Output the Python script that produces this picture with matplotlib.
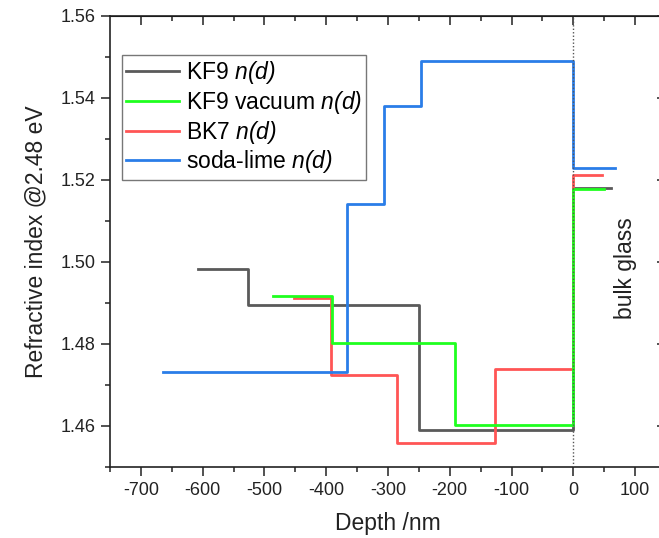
import matplotlib
matplotlib.use("Agg")
import matplotlib.pyplot as plt

# ---- data (step boundaries in nm, levels of refractive index) ----
kf9_x = [-608, -526, -250, 0, 61]
kf9_n = [1.4982, 1.4896, 1.4591, 1.5180, 1.5180]

kf9vac_x = [-486, -391, -192, 0, 50]
kf9vac_n = [1.4918, 1.4802, 1.4603, 1.5179, 1.5179]

bk7_x = [-452, -393, -286, -126, 0, 46]
bk7_n = [1.4911, 1.4724, 1.4559, 1.4740, 1.5213, 1.5213]

soda_x = [-664, -366, -307, -247, 0, 68]
soda_n = [1.4732, 1.5141, 1.5380, 1.5490, 1.5229, 1.5229]

labels = ["KF9 $n(d)$", "KF9 vacuum $n(d)$",
          "BK7 $n(d)$", "soda-lime $n(d)$"]
colors = ["#5a5a5a", "#1fff1f", "#ff5555", "#2a7de8"]

xticks = [-700, -600, -500, -400, -300, -200, -100, 0, 100]
yticks = [1.46, 1.48, 1.50, 1.52, 1.54, 1.56]

plt.rcParams['font.family'] = ['Liberation Sans', 'DejaVu Sans']
plt.rcParams['mathtext.fontset'] = 'custom'
plt.rcParams['mathtext.rm'] = 'Liberation Sans:italic'
plt.rcParams['mathtext.it'] = 'Liberation Sans:italic'
plt.rcParams['mathtext.default'] = 'it'

W, H = 659, 538
fig = plt.figure(figsize=(W / 100, H / 100), dpi=100)
L, R, T, B = 110, 666, 16, 467
ax = fig.add_axes([L / W, 1 - B / H, (R - L) / W, (B - T) / H])

lw = 2.0
h_kf9, = ax.step(kf9_x, kf9_n, where='post', color=colors[0], lw=lw, zorder=2)
h_bk7, = ax.step(bk7_x, bk7_n, where='post', color=colors[2], lw=lw, zorder=3)
h_soda, = ax.step(soda_x, soda_n, where='post', color=colors[3], lw=lw, zorder=4)
h_vac, = ax.step(kf9vac_x, kf9vac_n, where='post', color=colors[1], lw=lw, zorder=5)

ax.axvline(0, color='#555555', lw=1.0, ls=(0, (1, 1.5)), zorder=6)

ax.set_xlim(-750, 150)
ax.set_ylim(1.45, 1.56)
ax.set_xticks(xticks)
ax.set_xticklabels([str(v) for v in xticks])
ax.set_yticks(yticks)
ax.set_yticklabels([f"{v:.2f}" for v in yticks])
ax.set_xticks([v + 50 for v in xticks[:-1]] + [-750, 150], minor=True)
ax.set_yticks([1.45, 1.47, 1.49, 1.51, 1.53, 1.55], minor=True)

for s in ax.spines.values():
    s.set_linewidth(1.2)
    s.set_color('#222222')

ax.tick_params(axis='both', which='major', direction='out', length=6.5, width=1.1,
               labelsize=13, pad=4, colors='#222222', labelcolor='#222222')
ax.tick_params(axis='both', which='minor', direction='out', length=3.6, width=1.1,
               colors='#222222')

# mirrored inward ticks on top and right
axt = ax.secondary_xaxis('top')
axt.set_xticks(xticks)
axt.set_xticks([v + 50 for v in xticks[:-1]], minor=True)
axt.tick_params(which='major', direction='in', length=6.5, width=1.1, labeltop=False, colors='#222222')
axt.tick_params(which='minor', direction='in', length=3.6, width=1.1, colors='#222222')
axt.set_xticklabels([])
axr = ax.secondary_yaxis('right')
axr.set_yticks(yticks)
axr.set_yticks([1.47, 1.49, 1.51, 1.53, 1.55], minor=True)
axr.tick_params(which='major', direction='in', length=6.5, width=1.1, colors='#222222')
axr.tick_params(which='minor', direction='in', length=3.6, width=1.1, colors='#222222')
axr.set_yticklabels([])

ax.set_xlabel("Depth /nm", fontsize=16.5, labelpad=10, color='#222222')
ax.set_ylabel("Refractive index @2.48 eV", fontsize=16.5, labelpad=9, color='#222222')

ax.text(85, 1.4984, "bulk glass", rotation=90, ha='center', va='center',
        fontsize=16.5, color='#222222')

leg = ax.legend([h_kf9, h_vac, h_bk7, h_soda], labels, loc='upper left',
                bbox_to_anchor=(12 / (R - L), 1 - 39 / (B - T)), borderaxespad=0,
                fontsize=16.5, frameon=True, fancybox=False, framealpha=1,
                edgecolor='#777777', handlelength=2.3, handletextpad=0.3,
                labelspacing=0.12, borderpad=0.18)
leg.get_frame().set_linewidth(1.0)

fig.savefig("out.png", dpi=100)
